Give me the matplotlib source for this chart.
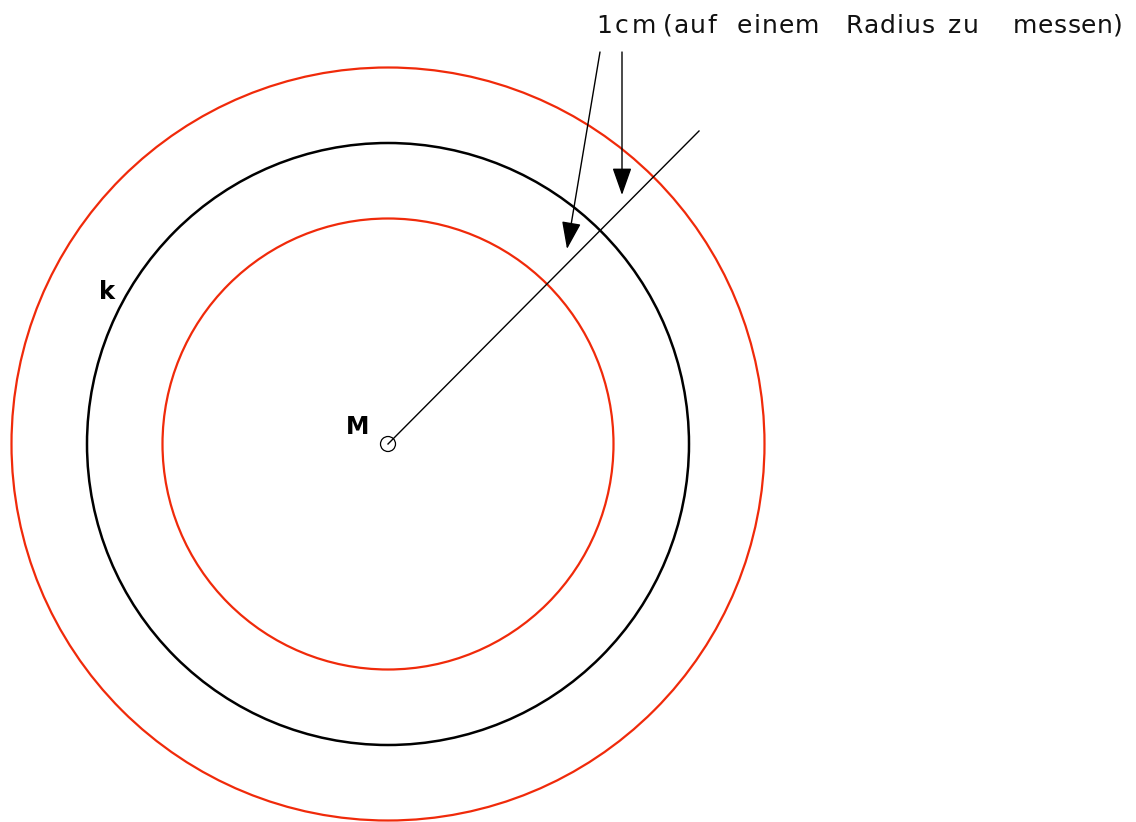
import matplotlib.pyplot as plt
from matplotlib.patches import Circle

# geometry in pixel units of the drawing
center = (388, 444)
radius_k = 301
ring_offset = 75.5          # 1 cm
radius_inner = radius_k - ring_offset
radius_outer = radius_k + ring_offset
ray_end = (699, 131)

arrow_starts = [(600, 52), (622, 52)]
arrow_tips = [(567, 249), (622, 195)]

# caption, justified and letter-spaced like the original
words = ["1cm", "(auf", "einem", "Radius", "zu", "messen)"]
word_x = [596, 663, 737, 845, 948, 1013]
word_tracking = [3, 1, 1, 1, 1.5, 0.5]
text_y = 26

red = '#f02a0a'

fig = plt.figure(figsize=(11.36, 8.22), dpi=100)
ax = fig.add_axes([0, 0, 1, 1])
ax.set_xlim(0, 1136)
ax.set_ylim(822, 0)
ax.set_aspect('equal')
ax.axis('off')

ax.add_patch(Circle(center, radius_outer, fill=False, ec=red, lw=1.6))
ax.add_patch(Circle(center, radius_inner, fill=False, ec=red, lw=1.6))
ax.add_patch(Circle(center, radius_k, fill=False, ec='black', lw=1.8))
ax.add_patch(Circle(center, 7.5, fill=False, ec='black', lw=0.9))

ax.plot([center[0], ray_end[0]], [center[1], ray_end[1]], color='black', lw=1.0)

for (x0, y0), (x1, y1) in zip(arrow_starts, arrow_tips):
    ax.annotate('', xy=(x1, y1), xytext=(x0, y0),
                arrowprops=dict(arrowstyle='-|>,head_length=1.7,head_width=0.6',
                                color='black', lw=1.0, shrinkA=0, shrinkB=0))

renderer = fig.canvas.get_renderer()
for w, x, extra in zip(words, word_x, word_tracking):
    for ch in w:
        t = ax.text(x, text_y, ch, fontsize=18, family='DejaVu Sans',
                    va='center', ha='left', color='#111111')
        x += t.get_window_extent(renderer).width + extra

ax.text(358, 427, 'M', fontsize=17, fontweight='bold', ha='center', va='center')
ax.text(107, 292, 'k', fontsize=17.5, fontweight='bold', ha='center', va='center')

fig.savefig('out.png', dpi=100)
